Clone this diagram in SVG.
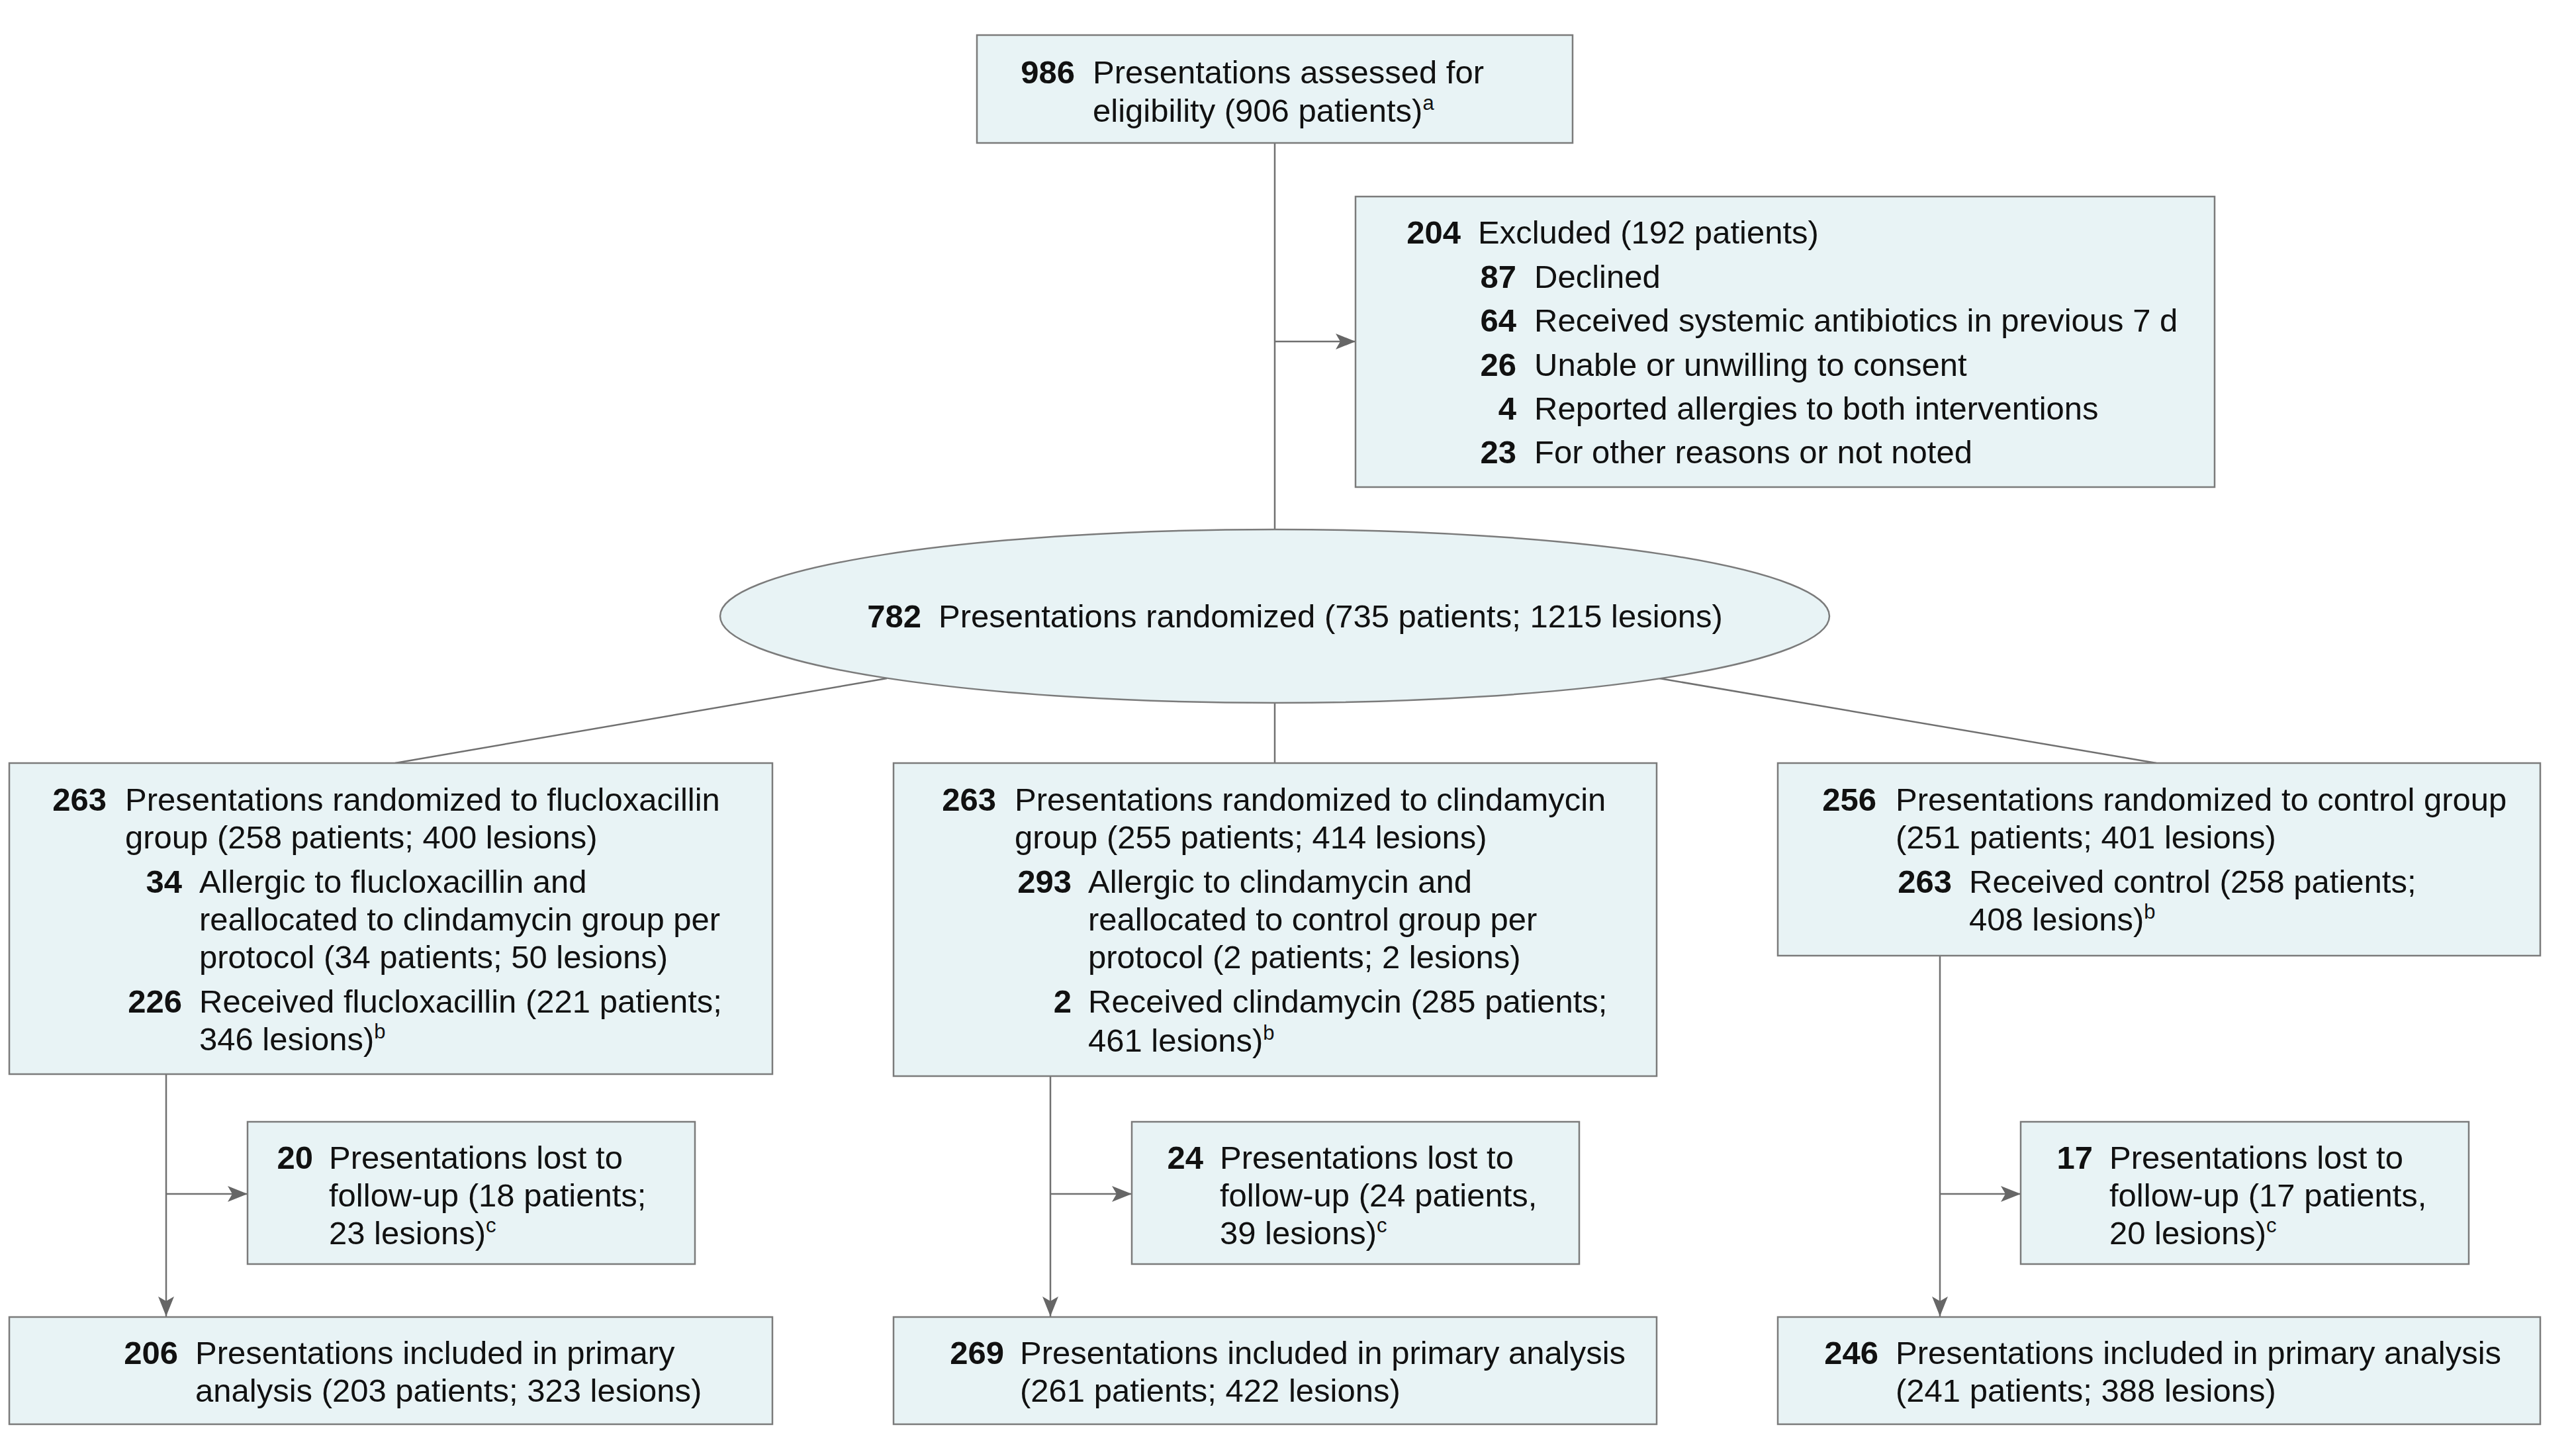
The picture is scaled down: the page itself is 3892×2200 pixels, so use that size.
<svg xmlns="http://www.w3.org/2000/svg" width="3892" height="2200" viewBox="0 0 3892 2200">
<style>
.box{fill:#e8f3f5;stroke:#7b7b7b;stroke-width:2.5}
.ln{fill:none;stroke:#707070;stroke-width:2.5}
text{font-family:"Liberation Sans",Arial,sans-serif;font-size:49px;fill:#111}
.num{font-weight:700;text-anchor:end}
.sup{font-size:31px}
</style>
<defs>
<marker id="arr" viewBox="0 0 30 24" refX="30" refY="12" markerWidth="30" markerHeight="24" markerUnits="userSpaceOnUse" orient="auto">
<path d="M0,0 L30,12 L0,24 L7,12 Z" fill="#666"/>
</marker>
</defs>
<rect width="3892" height="2200" fill="#fff"/>
<g id="connectors">
<line class="ln" x1="1926" y1="216" x2="1926" y2="800"/>
<line class="ln" x1="1926" y1="516" x2="2048" y2="516" marker-end="url(#arr)"/>
<line class="ln" x1="1340" y1="1025" x2="597" y2="1153"/>
<line class="ln" x1="1926" y1="1062" x2="1926" y2="1153"/>
<line class="ln" x1="2507" y1="1025" x2="3258" y2="1153"/>
<line class="ln" x1="251" y1="1623" x2="251" y2="1989" marker-end="url(#arr)"/>
<line class="ln" x1="251" y1="1804" x2="374" y2="1804" marker-end="url(#arr)"/>
<line class="ln" x1="1587" y1="1626" x2="1587" y2="1989" marker-end="url(#arr)"/>
<line class="ln" x1="1587" y1="1804" x2="1710" y2="1804" marker-end="url(#arr)"/>
<line class="ln" x1="2931" y1="1444" x2="2931" y2="1989" marker-end="url(#arr)"/>
<line class="ln" x1="2931" y1="1804" x2="3053" y2="1804" marker-end="url(#arr)"/>
</g>
<g id="n-assessed">
<rect class="box" x="1476" y="53" width="900" height="163"/>
<text class="num" x="1624" y="126">986</text>
<text x="1651" y="126">Presentations assessed for</text>
<text x="1651" y="184">eligibility (906 patients)<tspan class="sup" dy="-18">a</tspan></text>
</g>
<g id="n-excluded">
<rect class="box" x="2048" y="297" width="1298" height="439"/>
<text class="num" x="2207" y="368">204</text>
<text x="2233" y="368">Excluded (192 patients)</text>
<text class="num" x="2291" y="435">87</text>
<text x="2318" y="435">Declined</text>
<text class="num" x="2291" y="501">64</text>
<text x="2318" y="501">Received systemic antibiotics in previous 7 d</text>
<text class="num" x="2291" y="568">26</text>
<text x="2318" y="568">Unable or unwilling to consent</text>
<text class="num" x="2291" y="634">4</text>
<text x="2318" y="634">Reported allergies to both interventions</text>
<text class="num" x="2291" y="700">23</text>
<text x="2318" y="700">For other reasons or not noted</text>
</g>
<g id="n-randomized">
<ellipse class="box" cx="1926" cy="931" rx="838" ry="131"/>
<text class="num" x="1392" y="948">782</text>
<text x="1418" y="948">Presentations randomized (735 patients; 1215 lesions)</text>
</g>
<g id="n-fluclox">
<rect class="box" x="14" y="1153" width="1153" height="470"/>
<text class="num" x="161" y="1225">263</text>
<text x="189" y="1225">Presentations randomized to flucloxacillin</text>
<text x="189" y="1282">group (258 patients; 400 lesions)</text>
<text class="num" x="275" y="1349">34</text>
<text x="301" y="1349">Allergic to flucloxacillin and</text>
<text x="301" y="1406">reallocated to clindamycin group per</text>
<text x="301" y="1463">protocol (34 patients; 50 lesions)</text>
<text class="num" x="275" y="1530">226</text>
<text x="301" y="1530">Received flucloxacillin (221 patients;</text>
<text x="301" y="1587">346 lesions)<tspan class="sup" dy="-18">b</tspan></text>
</g>
<g id="n-clinda">
<rect class="box" x="1350" y="1153" width="1153" height="473"/>
<text class="num" x="1505" y="1225">263</text>
<text x="1533" y="1225">Presentations randomized to clindamycin</text>
<text x="1533" y="1282">group (255 patients; 414 lesions)</text>
<text class="num" x="1619" y="1349">293</text>
<text x="1644" y="1349">Allergic to clindamycin and</text>
<text x="1644" y="1406">reallocated to control group per</text>
<text x="1644" y="1463">protocol (2 patients; 2 lesions)</text>
<text class="num" x="1619" y="1530">2</text>
<text x="1644" y="1530">Received clindamycin (285 patients;</text>
<text x="1644" y="1589">461 lesions)<tspan class="sup" dy="-18">b</tspan></text>
</g>
<g id="n-control">
<rect class="box" x="2686" y="1153" width="1152" height="291"/>
<text class="num" x="2835" y="1225">256</text>
<text x="2864" y="1225">Presentations randomized to control group</text>
<text x="2864" y="1282">(251 patients; 401 lesions)</text>
<text class="num" x="2949" y="1349">263</text>
<text x="2975" y="1349">Received control (258 patients;</text>
<text x="2975" y="1406">408 lesions)<tspan class="sup" dy="-18">b</tspan></text>
</g>
<g id="n-lost-fluclox">
<rect class="box" x="374" y="1695" width="676" height="215"/>
<text class="num" x="473" y="1766">20</text>
<text x="497" y="1766">Presentations lost to</text>
<text x="497" y="1823">follow-up (18 patients;</text>
<text x="497" y="1880">23 lesions)<tspan class="sup" dy="-18">c</tspan></text>
</g>
<g id="n-lost-clinda">
<rect class="box" x="1710" y="1695" width="676" height="215"/>
<text class="num" x="1818" y="1766">24</text>
<text x="1843" y="1766">Presentations lost to</text>
<text x="1843" y="1823">follow-up (24 patients,</text>
<text x="1843" y="1880">39 lesions)<tspan class="sup" dy="-18">c</tspan></text>
</g>
<g id="n-lost-control">
<rect class="box" x="3053" y="1695" width="677" height="215"/>
<text class="num" x="3162" y="1766">17</text>
<text x="3187" y="1766">Presentations lost to</text>
<text x="3187" y="1823">follow-up (17 patients,</text>
<text x="3187" y="1880">20 lesions)<tspan class="sup" dy="-18">c</tspan></text>
</g>
<g id="n-primary-fluclox">
<rect class="box" x="14" y="1990" width="1153" height="162"/>
<text class="num" x="269" y="2061">206</text>
<text x="295" y="2061">Presentations included in primary</text>
<text x="295" y="2118">analysis (203 patients; 323 lesions)</text>
</g>
<g id="n-primary-clinda">
<rect class="box" x="1350" y="1990" width="1153" height="162"/>
<text class="num" x="1517" y="2061">269</text>
<text x="1541" y="2061">Presentations included in primary analysis</text>
<text x="1541" y="2118">(261 patients; 422 lesions)</text>
</g>
<g id="n-primary-control">
<rect class="box" x="2686" y="1990" width="1152" height="162"/>
<text class="num" x="2838" y="2061">246</text>
<text x="2864" y="2061">Presentations included in primary analysis</text>
<text x="2864" y="2118">(241 patients; 388 lesions)</text>
</g>
</svg>
